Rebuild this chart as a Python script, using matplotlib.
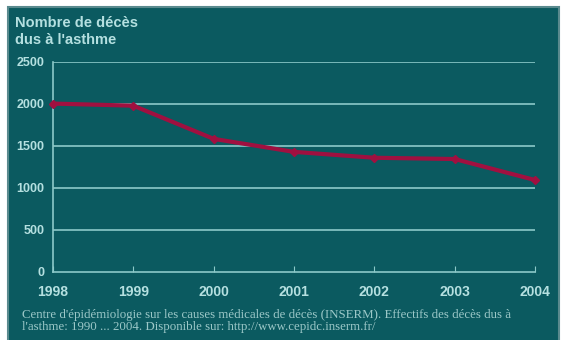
import matplotlib.pyplot as plt
from matplotlib.patches import Rectangle

years = [1998, 1999, 2000, 2001, 2002, 2003, 2004]
deaths = [2005, 1980, 1585, 1430, 1360, 1345, 1095]
y_ticks = [0, 500, 1000, 1500, 2000, 2500]

BG = '#0b5a60'
GRID = '#8cc9c9'
TXT = '#b5e0e0'
LINE = '#a01040'

fig = plt.figure(figsize=(5.71, 3.40), dpi=100)
fig.patch.set_facecolor('white')
fig.patches.append(Rectangle((8 / 571, -2 / 340), 551 / 571, 335 / 340,
                             transform=fig.transFigure, facecolor=BG,
                             edgecolor='#5a8a8e', linewidth=1.5, zorder=-10))

ax = fig.add_axes([53 / 571, 68 / 340, 482 / 571, 210 / 340])
ax.set_facecolor('none')
ax.plot(years, deaths, color=LINE, linewidth=3, marker='D', markersize=4,
        zorder=3, solid_capstyle='round', clip_on=False)

ax.set_xlim(1998, 2004)
ax.set_ylim(0, 2500)
ax.set_xticks(years)
ax.set_yticks(y_ticks)
ax.set_xticklabels([str(y) for y in years], color=TXT, fontsize=10,
                   fontweight='bold', family='Liberation Sans')
ax.set_yticklabels([str(v) for v in y_ticks], color=TXT, fontsize=9,
                   fontweight='bold', family='Liberation Sans')
for v in y_ticks[1:]:
    ax.axhline(v, color=GRID, linewidth=1.2, zorder=1)
for s in ['top', 'right']:
    ax.spines[s].set_visible(False)
for s in ['left', 'bottom']:
    ax.spines[s].set_color(GRID)
    ax.spines[s].set_linewidth(1.2)
ax.tick_params(axis='x', direction='in', length=4, color=GRID, pad=9)
ax.tick_params(axis='y', length=0, pad=6)

fig.text(15 / 571, 1 - 16 / 340, "Nombre de décès\ndus à l'asthme", color=TXT,
         fontsize=10.5, fontweight='bold', family='Liberation Sans',
         va='top', ha='left', linespacing=1.25)

fig.text(22 / 571, 1 - 309 / 340,
         "Centre d'épidémiologie sur les causes médicales de décès (INSERM). Effectifs des décès dus à\n"
         "l'asthme: 1990 ... 2004. Disponible sur: http://www.cepidc.inserm.fr/",
         color='#9cc8c8', fontsize=9.3, family='Liberation Serif',
         va='top', ha='left', linespacing=1.0)

fig.savefig('out.png', dpi=100)
